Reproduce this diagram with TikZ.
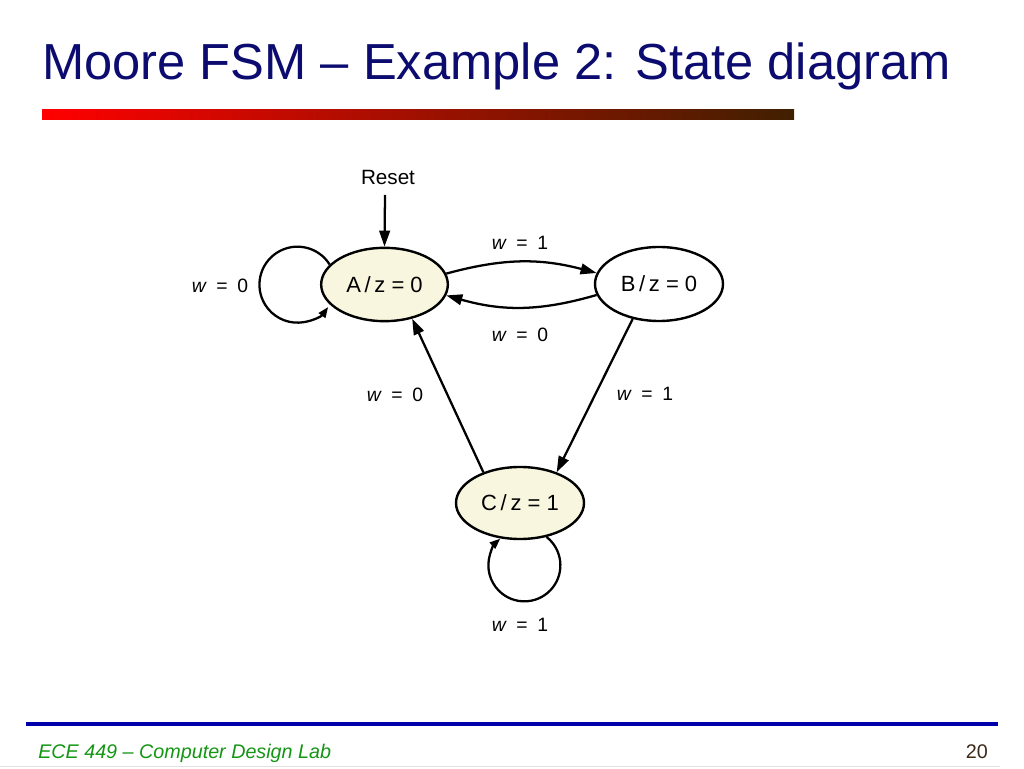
\documentclass[tikz,border=0pt]{standalone}
\usepackage{fontspec}
\setmainfont{Liberation Sans}
\usetikzlibrary{arrows.meta,shapes.geometric}
\definecolor{titleblue}{RGB}{12,12,112}
\definecolor{barbrown}{RGB}{64,32,0}
\definecolor{footblue}{RGB}{0,0,170}
\definecolor{footgreen}{RGB}{20,150,20}
\definecolor{pagenum}{RGB}{60,40,20}
\definecolor{cream}{RGB}{248,246,222}
\tikzset{
  statebox/.style={ellipse, draw=black, line width=1.8pt, inner sep=0pt,
    font=\fontsize{16.5}{19}\selectfont},
  arr/.style={line width=1.7pt, -{Triangle[length=12pt,width=8pt]}},
  smallarr/.style={line width=1.7pt, -{Triangle[length=8pt,width=6pt]}},
  edgelabel/.style={inner sep=0pt, font=\fontsize{14.5}{17}\selectfont}
}
\newcommand{\wlab}[1]{\textit{w}\hspace{0.5em}=\hspace{0.5em}#1}
\begin{document}
\begin{tikzpicture}[x=0.75pt,y=0.75pt]
\useasboundingbox (0,0) rectangle (1024,768);
\fill[white] (0,0) rectangle (1024,768);

% title and bar
\node[anchor=base west, inner sep=0pt, text=titleblue,
  font=\fontsize{38}{46}\selectfont] (title) at (42,688) {Moore FSM – Example 2: State diagram};
\shade[left color=red, right color=barbrown] (42,648) rectangle (794,658);

% footer
\fill[footblue] (26,42) rectangle (998,46);
\node[anchor=base west, inner sep=0pt, text=footgreen,
  font=\fontsize{14.8}{17}\selectfont\itshape] (foot) at (38,10) {ECE 449 – Computer Design Lab};
\node[anchor=base east, inner sep=0pt, text=pagenum,
  font=\fontsize{14.8}{17}\selectfont] (page) at (988,10) {20};
\draw[black!12, line width=0.75pt] (0,2) -- (1000,2);

% states
\node[statebox, fill=cream, minimum width=95pt, minimum height=55pt] (A) at (384.5,483.5) {A\,/\,z = 0};
\node[statebox, fill=white, minimum width=96pt, minimum height=55.5pt] (B) at (659,484) {B\,/\,z = 0};
\node[statebox, fill=cream, minimum width=96pt, minimum height=54pt] (C) at (520,265) {C\,/\,z = 1};

% reset
\node[inner sep=0pt, font=\fontsize{15.5}{18}\selectfont] (reset) at (388,591) {Reset};
\coordinate (rs) at (385,573);
\draw[arr] (rs) -- (A.north);

% transitions
\draw[arr] (A.10) to[bend left=15] (B.170);
\draw[arr] (B.190) to[bend left=16] (A.350);
\draw[arr] (B.233) -- (C.40);
\draw[arr] (C.140) -- (A.309);
\draw[smallarr] (A.160) arc[start angle=32, end angle=324, radius=38];
\draw[smallarr] (C.308.5) arc[start angle=52, end angle=-228, radius=36];

% labels
\node[edgelabel] (lAB) at (520,525) {\wlab{1}};
\node[edgelabel] (lBA) at (520,433) {\wlab{0}};
\node[edgelabel] (lAA) at (220,482) {\wlab{0}};
\node[edgelabel] (lCA) at (395,373) {\wlab{0}};
\node[edgelabel] (lBC) at (645,374) {\wlab{1}};
\node[edgelabel] (lCC) at (520,143) {\wlab{1}};
\end{tikzpicture}
\end{document}
